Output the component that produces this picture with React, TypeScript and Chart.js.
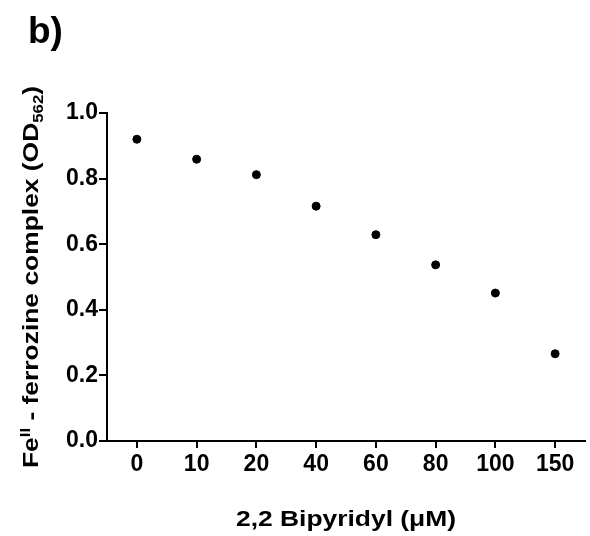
import React, { useEffect, useRef } from "react";
import { Chart, registerables } from "chart.js";

Chart.register(...registerables);

const categories = ["0", "10", "20", "40", "60", "80", "100", "150"];
const absorbance = [0.92, 0.859, 0.812, 0.716, 0.629, 0.537, 0.451, 0.266];
const yTicks = [0, 0.2, 0.4, 0.6, 0.8, 1.0];
const panelLabel = "b)";
const xTitle = "2,2 Bipyridyl (\u03BCM)";
const yTitleParts = [
  { text: "Fe", kind: "normal" },
  { text: "II", kind: "sup" },
  { text: " - ferrozine complex (OD", kind: "normal" },
  { text: "562", kind: "sub" },
  { text: ")", kind: "normal" },
];

const FONT = "'Liberation Sans', Arial, Helvetica, sans-serif";

const annotations = {
  id: "annotations",
  afterDraw(chart: any) {
    const { ctx, chartArea } = chart;
    ctx.save();
    ctx.fillStyle = "#000";
    ctx.textBaseline = "alphabetic";

    // panel label
    ctx.font = `bold 37px ${FONT}`;
    ctx.textAlign = "left";
    ctx.fillText(panelLabel, 28, 43);

    // x title
    const cx = (chartArea.left + chartArea.right) / 2;
    ctx.save();
    ctx.font = `bold 22px ${FONT}`;
    ctx.translate(cx, 526);
    ctx.scale(1.2, 1);
    ctx.textAlign = "center";
    ctx.fillText(xTitle, 0, 0);
    ctx.restore();

    // y title (rotated, with super/subscripts)
    const cy = (chartArea.top + chartArea.bottom) / 2;
    ctx.save();
    ctx.translate(38, cy);
    ctx.rotate(-Math.PI / 2);
    ctx.scale(1.2, 1);
    const fontFor = (k: string) =>
      k === "normal" ? `bold 22px ${FONT}` : `bold 14px ${FONT}`;
    let total = 0;
    for (const p of yTitleParts) {
      ctx.font = fontFor(p.kind);
      total += ctx.measureText(p.text).width;
    }
    let x = -total / 2;
    ctx.textAlign = "left";
    for (const p of yTitleParts) {
      ctx.font = fontFor(p.kind);
      const dy = p.kind === "sup" ? -8 : p.kind === "sub" ? 5 : 0;
      ctx.fillText(p.text, x, dy);
      x += ctx.measureText(p.text).width;
    }
    ctx.restore();

    ctx.restore();
  },
};

export default function App() {
  const ref = useRef<HTMLCanvasElement | null>(null);

  useEffect(() => {
    if (!ref.current) return;
    const tickFont = { family: FONT, size: 23, weight: "bold" as const };
    const chart = new Chart(ref.current, {
      type: "line",
      data: {
        labels: categories,
        datasets: [
          {
            data: absorbance,
            showLine: false,
            pointRadius: 4,
            pointHoverRadius: 4,
            pointBackgroundColor: "#000",
            pointBorderColor: "#000",
            borderColor: "#000",
            backgroundColor: "#000",
          },
        ],
      },
      options: {
        responsive: false,
        animation: false,
        layout: { padding: { top: 113, right: 3, bottom: 0, left: 0 } },
        plugins: {
          legend: { display: false },
          tooltip: { enabled: false },
        },
        scales: {
          x: {
            type: "category",
            offset: true,
            grid: {
              display: true,
              drawOnChartArea: false,
              drawTicks: true,
              tickLength: 7,
              color: "#000",
              lineWidth: 2,
              offset: false,
            },
            border: { display: true, color: "#000", width: 2 },
            ticks: {
              color: "#000",
              font: tickFont,
              padding: 3,
              maxRotation: 0,
              autoSkip: false,
            },
            afterFit: (s: any) => {
              s.height = 95;
            },
          },
          y: {
            min: 0,
            max: 1,
            grid: {
              display: true,
              drawOnChartArea: false,
              drawTicks: true,
              tickLength: 8,
              color: "#000",
              lineWidth: 2,
            },
            border: { display: true, color: "#000", width: 2 },
            ticks: {
              color: "#000",
              font: tickFont,
              padding: 1,
              callback: (v: any) => Number(v).toFixed(1),
            },
            afterBuildTicks: (s: any) => {
              s.ticks = yTicks.map((v) => ({ value: v }));
            },
            afterFit: (s: any) => {
              s.width = 107;
            },
          },
        },
      },
      plugins: [annotations],
    });
    return () => chart.destroy();
  }, []);

  return (
    <div style={{ position: "absolute", left: 0, top: 0, width: 590, height: 536, background: "#fff" }}>
      <canvas ref={ref} width={590} height={536} style={{ display: "block" }} />
    </div>
  );
}
